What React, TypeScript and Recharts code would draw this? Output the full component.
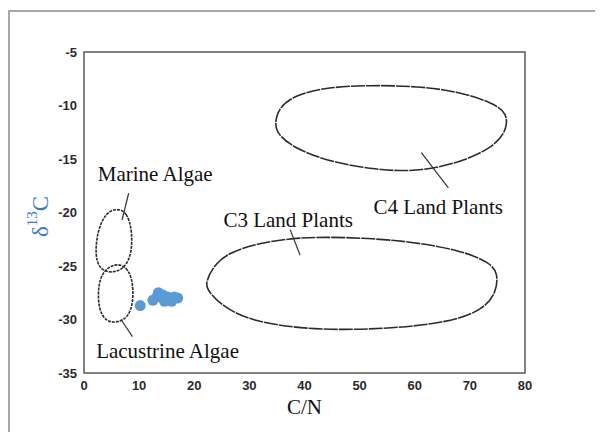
import {
  ComposedChart,
  Line,
  Scatter,
  XAxis,
  YAxis,
  ReferenceArea,
  ReferenceLine,
} from 'recharts';

// C/N ratio vs δ13C source fields
const xTicks = [0, 10, 20, 30, 40, 50, 60, 70, 80];
const yTicks = [-35, -30, -25, -20, -15, -10, -5];

const marineAlgae = [
  { x: 6.0, y: -19.6 }, { x: 7.8, y: -20.0 }, { x: 8.7, y: -21.6 }, { x: 8.7, y: -23.8 },
  { x: 7.4, y: -25.2 }, { x: 5.1, y: -25.7 }, { x: 2.7, y: -25.3 }, { x: 2.0, y: -23.8 },
  { x: 2.5, y: -21.6 }, { x: 4.0, y: -20.0 },
];

const lacustrineAlgae = [
  { x: 5.6, y: -24.7 }, { x: 7.8, y: -25.1 }, { x: 8.8, y: -26.3 }, { x: 9.0, y: -28.2 },
  { x: 8.1, y: -29.8 }, { x: 6.0, y: -30.3 }, { x: 4.0, y: -30.2 }, { x: 2.7, y: -29.1 },
  { x: 2.5, y: -27.2 }, { x: 3.2, y: -25.6 },
];

const c3Plants = [
  { x: 22.0, y: -26.6 }, { x: 23.7, y: -24.7 }, { x: 27.8, y: -23.3 }, { x: 37.6, y: -22.3 },
  { x: 47.3, y: -22.3 }, { x: 57.8, y: -22.6 }, { x: 68.3, y: -23.5 }, { x: 73.7, y: -24.7 },
  { x: 75.1, y: -25.7 }, { x: 74.8, y: -27.5 }, { x: 72.4, y: -29.1 }, { x: 66.1, y: -30.3 },
  { x: 54.4, y: -30.9 }, { x: 41.7, y: -31.0 }, { x: 30.0, y: -30.2 }, { x: 24.4, y: -28.5 },
  { x: 22.4, y: -27.2 },
];

const c4Plants = [
  { x: 34.5, y: -11.8 }, { x: 35.4, y: -10.1 }, { x: 38.5, y: -9.0 }, { x: 43.9, y: -8.3 },
  { x: 51.6, y: -8.1 }, { x: 60.7, y: -8.2 }, { x: 67.9, y: -8.7 }, { x: 73.9, y: -9.7 },
  { x: 76.9, y: -10.7 }, { x: 76.6, y: -12.5 }, { x: 73.9, y: -14.0 }, { x: 67.9, y: -15.4 },
  { x: 60.1, y: -16.2 }, { x: 52.9, y: -16.0 }, { x: 45.0, y: -15.3 }, { x: 39.0, y: -14.2 },
  { x: 35.4, y: -12.9 },
];

const samples = [
  { x: 10.2, y: -28.7 },
  { x: 12.5, y: -28.2 }, { x: 13.2, y: -27.9 }, { x: 13.5, y: -27.5 }, { x: 14.3, y: -27.7 },
  { x: 14.6, y: -28.3 }, { x: 15.2, y: -27.9 }, { x: 15.9, y: -28.3 }, { x: 16.4, y: -27.9 },
  { x: 17.0, y: -28.0 },
];

const fieldLabels = [
  { x: 2.5, y: -16.4, text: 'Marine Algae' },
  { x: 2.2, y: -32.9, text: 'Lacustrine Algae' },
  { x: 25.3, y: -20.7, text: 'C3 Land Plants' },
  { x: 52.5, y: -19.5, text: 'C4 Land Plants' },
];

const leaders = [
  [{ x: 8.1, y: -18.2 }, { x: 6.9, y: -20.7 }],
  [{ x: 6.7, y: -30.0 }, { x: 8.8, y: -31.6 }],
  [{ x: 37.4, y: -21.6 }, { x: 39.2, y: -24.0 }],
  [{ x: 61.2, y: -14.4 }, { x: 66.1, y: -17.7 }],
];

const outlineColor = '#2b2b2b';
const tickStyle = { fill: '#2a2a2a', fontSize: 13, fontWeight: 700, fontFamily: 'Liberation Sans' };

function YLabel({ viewBox }: any) {
  const cx = viewBox.x - 4;
  const cy = viewBox.y + viewBox.height / 2 + 4;
  return (
    <text
      x={cx}
      y={cy}
      transform={`rotate(-90 ${cx} ${cy})`}
      textAnchor="middle"
      dominantBaseline="central"
      fill="#3b78c2"
      fontFamily="Liberation Serif"
      fontSize={23}
    >
      δ<tspan fontSize={15} dy={-8}>13</tspan>
      <tspan dy={8}>C</tspan>
    </text>
  );
}

function FieldLabel({ cx, cy, payload }: any) {
  return (
    <text
      x={cx}
      y={cy}
      dominantBaseline="central"
      fill="#111"
      fontFamily="Liberation Serif"
      fontSize={21}
    >
      {payload.text}
    </text>
  );
}

export default function App() {
  return (
    <div style={{ position: 'relative', width: 595, height: 424 }}>
      <div
        style={{
          position: 'absolute',
          top: 2,
          left: 0,
          width: 595,
          height: 422,
          borderLeft: '2px solid #a8a8a8',
          borderTop: '2px solid #a8a8a8',
        }}
      />
      <div style={{ position: 'absolute', top: 0, left: 0 }}>
        <ComposedChart
          width={595}
          height={424}
          margin={{ top: 44, right: 78, bottom: 18, left: 36 }}
        >
          <XAxis
            type="number"
            dataKey="x"
            domain={[0, 80]}
            ticks={xTicks}
            tick={tickStyle}
            tickLine={false}
            axisLine={false}
            height={41}
            label={{
              value: 'C/N',
              position: 'insideBottom',
              offset: 0,
              fill: '#111',
              fontSize: 21,
              fontFamily: 'Liberation Serif',
            }}
          />
          <YAxis
            type="number"
            dataKey="y"
            domain={[-35, -5]}
            ticks={yTicks}
            tick={tickStyle}
            tickLine={false}
            axisLine={false}
            tickSize={7}
            tickMargin={0}
            width={40}
            label={<YLabel />}
          />
          <ReferenceArea
            x1={0}
            x2={80}
            y1={-35}
            y2={-5}
            fill="none"
            stroke="#5a5a5a"
            strokeWidth={1.5}
          />
          <Line data={marineAlgae} dataKey="y" type="basisClosed" stroke={outlineColor}
            strokeWidth={1.6} strokeDasharray="3 1" dot={false} activeDot={false} isAnimationActive={false} />
          <Line data={lacustrineAlgae} dataKey="y" type="basisClosed" stroke={outlineColor}
            strokeWidth={1.6} strokeDasharray="3 1" dot={false} activeDot={false} isAnimationActive={false} />
          <Line data={c3Plants} dataKey="y" type="basisClosed" stroke={outlineColor}
            strokeWidth={1.6} strokeDasharray="14 1" dot={false} activeDot={false} isAnimationActive={false} />
          <Line data={c4Plants} dataKey="y" type="basisClosed" stroke={outlineColor}
            strokeWidth={1.6} strokeDasharray="14 1" dot={false} activeDot={false} isAnimationActive={false} />
          {leaders.map((seg, i) => (
            <ReferenceLine key={i} segment={seg} stroke="#333" strokeWidth={1.2} />
          ))}
          <Scatter
            data={samples}
            fill="#5b9bd5"
            isAnimationActive={false}
            shape={({ cx, cy }: any) => <circle cx={cx} cy={cy} r={5.5} fill="#5b9bd5" />}
          />
          <Scatter data={fieldLabels} isAnimationActive={false} shape={FieldLabel} />
        </ComposedChart>
      </div>
    </div>
  );
}
